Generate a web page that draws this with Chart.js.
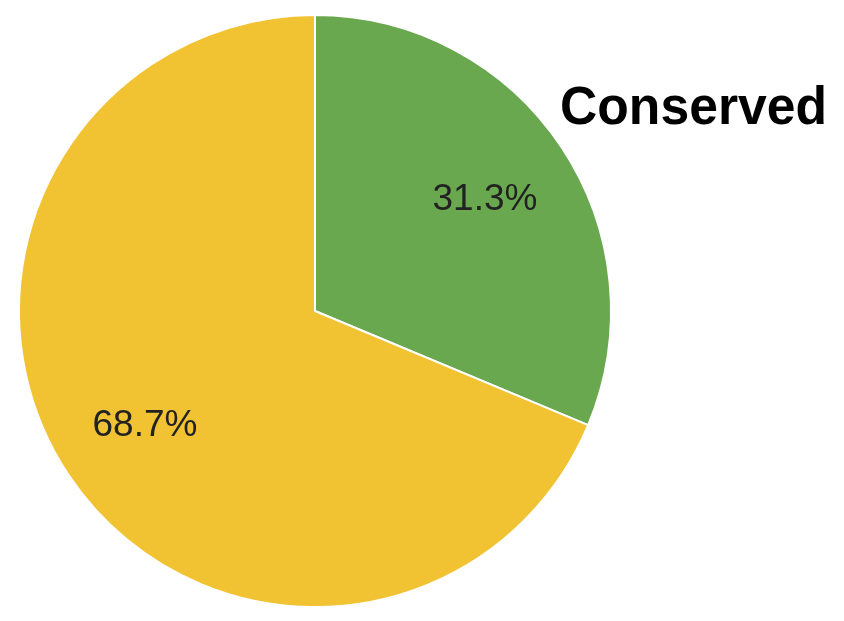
<!DOCTYPE html>
<html>
<head>
<meta charset="utf-8">
<script src="https://cdn.jsdelivr.net/npm/chart.js@4/dist/chart.umd.min.js"></script>
<style>
  html, body { margin: 0; padding: 0; background: #fff; }
  #wrap { position: relative; width: 844px; height: 621px; }
</style>
</head>
<body>
<div id="wrap"><canvas id="c"></canvas></div>
<script>
const categories = ["Conserved", "Not conserved"];
const values = [31.3, 68.7];
const colors = ["#6AA84F", "#F1C232"];
const titleText = "Conserved";

const labelPlugin = {
  id: 'sliceLabels',
  afterDatasetsDraw(chart) {
    const ctx = chart.ctx;
    const meta = chart.getDatasetMeta(0);
    ctx.save();
    ctx.font = '37px "Liberation Sans", Arial, sans-serif';
    ctx.fillStyle = '#222222';
    ctx.textAlign = 'center';
    ctx.textBaseline = 'middle';
    meta.data.forEach((arc, i) => {
      const mid = (arc.startAngle + arc.endAngle) / 2;
      const r = arc.outerRadius * 0.69;
      const x = arc.x + Math.cos(mid) * r;
      const y = arc.y + Math.sin(mid) * r;
      ctx.fillText(values[i].toFixed(1) + '%', x, y + 2);
    });
    ctx.font = 'bold 53px "Liberation Sans", Arial, sans-serif';
    ctx.fillStyle = '#000000';
    ctx.textAlign = 'left';
    ctx.textBaseline = 'alphabetic';
    ctx.fillText(titleText, 560, 124, 267);
    ctx.restore();
  }
};

new Chart(document.getElementById('c'), {
  type: 'pie',
  data: {
    labels: categories,
    datasets: [{
      data: values,
      backgroundColor: colors,
      borderColor: '#ffffff',
      borderWidth: 2
    }]
  },
  options: {
    responsive: true,
    maintainAspectRatio: false,
    animation: false,
    layout: { padding: { left: 18, right: 232, top: 14, bottom: 13 } },
    plugins: {
      legend: { display: false },
      tooltip: { enabled: false },
      title: { display: false }
    }
  },
  plugins: [labelPlugin]
});
</script>
</body>
</html>
